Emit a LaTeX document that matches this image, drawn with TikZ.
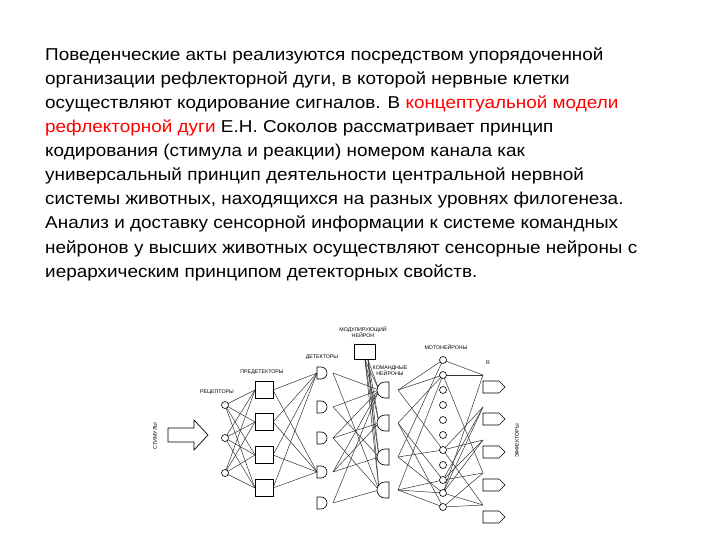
\documentclass[tikz,border=0pt]{standalone}
\usepackage{fontspec}
\setmainfont{Liberation Sans}
\newfontfamily\widefont[FakeStretch=1.1]{Liberation Sans}
\usetikzlibrary{calc}
\begin{document}
\begin{tikzpicture}[x=1pt,y=-1pt,
  txt/.style={anchor=base west,inner sep=0,font=\widefont\fontsize{17.2}{20}\selectfont},
  lab/.style={font=\fontsize{5.3}{6.3}\selectfont,inner sep=0,align=center},
  wire/.style={draw=black!80,line width=0.5pt},
  cell/.style={draw,line width=0.6pt,fill=white}]
\useasboundingbox (0,0) rectangle (720,540);
\node[txt] (t1) at (45,61) {Поведенческие акты реализуются посредством упорядоченной};
\node[txt] (t2) at (45,85) {организации рефлекторной дуги, в которой нервные клетки};
\node[txt] (t3) at (45,109) {осуществляют кодирование сигналов. В \textcolor{red}{концептуальной модели}};
\node[txt] (t4) at (45,133) {\textcolor{red}{рефлекторной дуги} Е.Н. Соколов рассматривает принцип};
\node[txt] (t5) at (45,157) {кодирования (стимула и реакции) номером канала как};
\node[txt] (t6) at (45,181) {универсальный принцип деятельности центральной нервной};
\node[txt] (t7) at (45,205) {системы животных, находящихся на разных уровнях филогенеза.};
\node[txt] (t8) at (45,229) {Анализ и доставку сенсорной информации к системе командных};
\node[txt] (t9) at (45,253) {нейронов у высших животных осуществляют сенсорные нейроны с};
\node[txt] (t10) at (45,277) {иерархическим принципом детекторных свойств.};
% coordinates
\foreach \i/\y in {1/405,2/438,3/473} \coordinate (r\i) at (225,\y);
\foreach \i/\y in {1/390,2/422,3/455,4/488} {\coordinate (pl\i) at (255,\y);\coordinate (pr\i) at (273,\y);}
\foreach \i/\y in {1/373,2/407,3/438,4/472,5/503} {\coordinate (dl\i) at (317,\y);\coordinate (dr\i) at (333,\y);}
\foreach \i/\y in {1/390,2/423,3/457,4/490} {\coordinate (cl\i) at (379,\y);\coordinate (cr\i) at (398,\y);}
\foreach \i/\y in {1/360,2/375,3/390,4/405,5/420,6/435,7/450,8/465,9/480,10/493,11/507} \coordinate (m\i) at (443,\y);
\foreach \i/\y in {1/375,2/407,3/440,4/473,5/505} \coordinate (e\i) at (483,\y);
\coordinate (mod) at (365,360);
% wires
\foreach \i in {1,2,3} \foreach \j in {1,2,3,4} \draw[wire] (r\i) -- (pl\j);
\foreach \j in {1,2,3,4} \foreach \k in {1,4} \draw[wire] (pr\j) -- (dl\k);
\foreach \a/\b in {1/1,1/4,2/1,2/3,3/1,3/2,3/4,4/1,4/2,4/3,5/1,5/4} \draw[wire] (dr\a) -- (cl\b);
\foreach \b in {1,2,3,4} {\draw[wire] (mod) -- (cl\b); \draw[wire] ([xshift=3]mod) -- (cl\b);}
\foreach \a/\b in {1/1,1/2,1/7,2/2,2/9,2/11,3/1,3/7,3/10,4/2,4/9,4/10,4/11} \draw[wire] (cr\a) -- (m\b);
\foreach \a/\b in {1/1,2/1,2/4,7/2,7/3,7/5,9/2,9/3,9/4,10/1,10/2,10/3,10/5,11/4,11/5} \draw[wire] (m\a) -- (e\b);
% stimulus arrow
\draw[line width=0.7pt,fill=white] (168,428) -- (194,428) -- (194,420) -- (208,435) -- (194,450) -- (194,442) -- (168,442) -- cycle;
\node[lab,rotate=90] (stim) at (155,436) {СТИМУЛЫ};
% receptors
\foreach \i in {1,2,3} \node[cell,circle,minimum size=7pt,inner sep=0] (rc\i) at (r\i) {};
\node[lab] (lr) at (217,392) {РЕЦЕПТОРЫ};
% predetectors
\foreach \i in {1,2,3,4} \node[cell,minimum width=18pt,minimum height=17pt,inner sep=0] (pd\i) at ($(pl\i)!0.5!(pr\i)$) {};
\node[lab] (lp) at (262,372) {ПРЕДЕТЕКТОРЫ};
% detectors
\foreach \i in {1,...,5} \draw[cell] ([yshift=-6]dl\i) -- ++(4,0) arc (90:-90:6) -- ([yshift=6]dl\i) -- cycle;
\node[lab] (ld) at (322,357) {ДЕТЕКТОРЫ};
% modulator
\node[cell,minimum width=21pt,minimum height=15pt,inner sep=0] (modn) at (365,352) {};
\node[lab] (lm) at (363,332) {МОДУЛИРУЮЩИЙ\\НЕЙРОН};
% command neurons
\foreach \i in {1,...,4} \draw[cell] ([xshift=10,yshift=-8]cl\i) -- ([xshift=10,yshift=8]cl\i) -- ++(-4,0) arc (-90:-270:8) -- cycle;
\node[lab] (lc) at (390,371) {КОМАНДНЫЕ\\НЕЙРОНЫ};
% motoneurons
\foreach \i in {1,...,11} \node[cell,circle,minimum size=7pt,inner sep=0] (mn\i) at (m\i) {};
\node[lab] (lmn) at (446,347) {МОТОНЕЙРОНЫ};
% effectors
\foreach \i in {1,...,5} \draw[cell] ([yshift=-6]e\i) -- ++(16,0) -- ++(6,6) -- ++(-6,6) -- ++(-16,0) -- cycle;
\node[lab] (lR) at (488,363) {R};
\node[lab,rotate=90] (le) at (517,441) {ЭФФЕКТОРЫ};
\end{tikzpicture}
\end{document}
